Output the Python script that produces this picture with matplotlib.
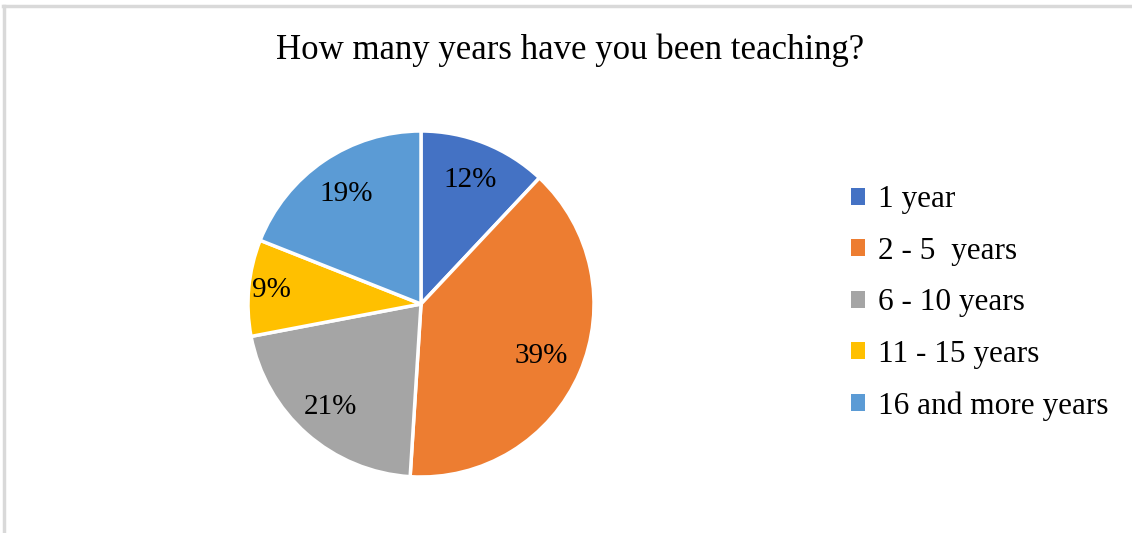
import matplotlib
matplotlib.use("Agg")
import matplotlib.pyplot as plt
from matplotlib.patches import Patch
import numpy as np

# survey data
labels = ["1 year", "2 - 5  years", "6 - 10 years", "11 - 15 years", "16 and more years"]
shares = [12, 39, 21, 9, 19]
colors = ["#4472C4", "#ED7D31", "#A5A5A5", "#FFC000", "#5B9BD5"]

W, H = 1132, 533
plt.rcParams['font.family'] = ['Liberation Serif', 'DejaVu Serif']

fig = plt.figure(figsize=(W / 100, H / 100), dpi=100)

# light grey chart frame (top and left edges visible)
fig.add_artist(plt.Line2D([3 / W, 1], [1 - 6 / H, 1 - 6 / H], color="#D9D9D9", lw=2.5))
fig.add_artist(plt.Line2D([3.5 / W, 3.5 / W], [0, 1 - 6 / H], color="#D9D9D9", lw=2.5))

fig.text(570 / W, 1 - 50 / H, "How many years have you been teaching?",
         ha="center", va="center", fontsize=25)

# pie axes placed in pixel terms
cx, cy, r = 421, H - 304, 173
ax = fig.add_axes([(cx - r) / W, (cy - r) / H, 2 * r / W, 2 * r / H])
wedges, _ = ax.pie(shares, colors=colors, startangle=90, counterclock=False,
                   radius=1, wedgeprops=dict(edgecolor="white", linewidth=2.5))
ax.set_xlim(-1, 1)
ax.set_ylim(-1, 1)
ax.set_aspect("equal")

# percentage labels
dists = [0.77, 0.76, 0.79, 0.87, 0.77]
for w, s, d in zip(wedges, shares, dists):
    ang = np.deg2rad((w.theta1 + w.theta2) / 2)
    ax.text(d * np.cos(ang), d * np.sin(ang), f"{s}%", ha="center", va="center", fontsize=21)

handles = [Patch(facecolor=c, edgecolor="none") for c in colors]
fig.legend(handles, labels, loc="center left", bbox_to_anchor=(851 / W, 1 - 303 / H),
           frameon=False, fontsize=22.5, handlelength=0.45, handleheight=0.45,
           handletextpad=0.4, labelspacing=0.72, borderpad=0, borderaxespad=0)

fig.savefig("out.png", dpi=100)
